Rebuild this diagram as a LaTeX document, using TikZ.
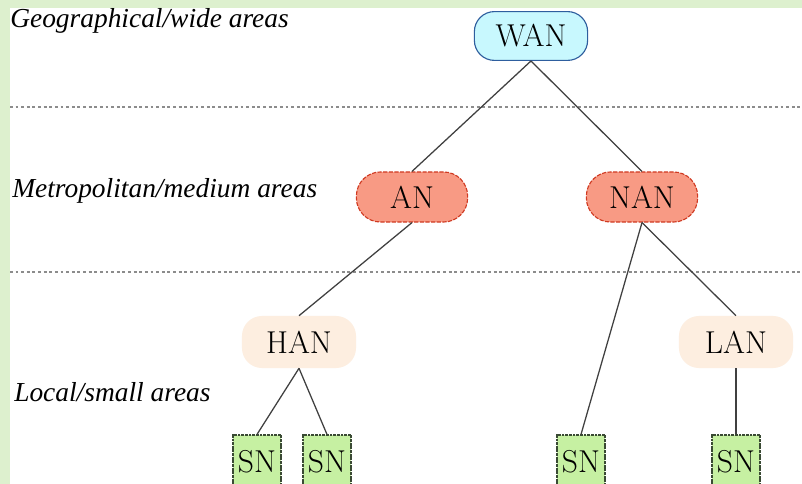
\documentclass[tikz,border=0pt]{standalone}
\usepackage{fontspec}
\usepackage{tikz}
\usetikzlibrary{calc}
\newfontfamily\areafont{Liberation Serif}
\definecolor{bandgreen}{HTML}{DDF0CE}
\definecolor{wanfill}{HTML}{C8F8FE}
\definecolor{wanline}{HTML}{2E5E9E}
\definecolor{anfill}{HTML}{F89A84}
\definecolor{anline}{HTML}{D03A22}
\definecolor{hanfill}{HTML}{FDEEE0}
\definecolor{snfill}{HTML}{C6F0A2}
\definecolor{snline}{HTML}{3A4A34}
\tikzset{
  nettext/.style={font=\fontsize{22.5}{26}\selectfont, inner sep=0pt},
  wanbox/.style={nettext, rectangle, rounded corners=0.5cm, draw=wanline, fill=wanfill, thick, minimum width=2.83cm, minimum height=1.22cm},
  anbox/.style={nettext, rectangle, rounded corners=0.6cm, draw=anline, fill=anfill, thick, dashed, dash pattern=on 3pt off 1pt, minimum width=2.78cm, minimum height=1.25cm},
  hanbox/.style={nettext, rectangle, rounded corners=0.5cm, fill=hanfill, minimum width=2.85cm, minimum height=1.3cm},
  snbox/.style={nettext, rectangle, draw=snline, fill=snfill, thick, dash pattern=on 2pt off 0.6pt, minimum width=1.2cm, minimum height=1.35cm},
  arealabel/.style={anchor=base west, inner sep=0pt, font=\areafont\itshape\fontsize{19.5}{23}\selectfont},
  edge/.style={draw=black!75, line width=0.9pt},
  level/.style={draw=black!45, thick, dash pattern=on 2pt off 2pt}
}
\begin{document}
\begin{tikzpicture}[x=0.025cm,y=-0.025cm]
      \useasboundingbox (0,0) rectangle (802,484);
      \fill [bandgreen] (0,0) rectangle (802,484);
      \fill [white] (10,8) rectangle (802,484);
      % levels
      \draw [level] (10,107) -- (802,107);
      \draw [level] (10,272) -- (802,272);
      \node [arealabel] (geo) at (10,28) {Geographical/wide areas};
      \node [arealabel] (metro) at (12,198) {Metropolitan/medium areas};
      \node [arealabel] (local) at (14,401) {Local/small areas};
      % networks
      \node (wan) [wanbox] at (531,36) {WAN};
      \node (an) [anbox] at (412,197) {AN};
      \node (nan) [anbox] at (642,197) {NAN};
      \node (han) [hanbox] at (299,342) {HAN};
      \node (lan) [hanbox] at (736,342) {LAN};
      \foreach \n/\x in {1/257,2/327,3/581,4/736}{
        \node (sn\n) [snbox] at (\x,462) {SN};
      }
      \foreach \a/\b in {wan/an,wan/nan,an/han,nan/sn3,nan/lan,han/sn1,han/sn2,lan/sn4}{
        \draw [edge] (\a.south) -- (\b.north);
      }
    \end{tikzpicture}
\end{document}
